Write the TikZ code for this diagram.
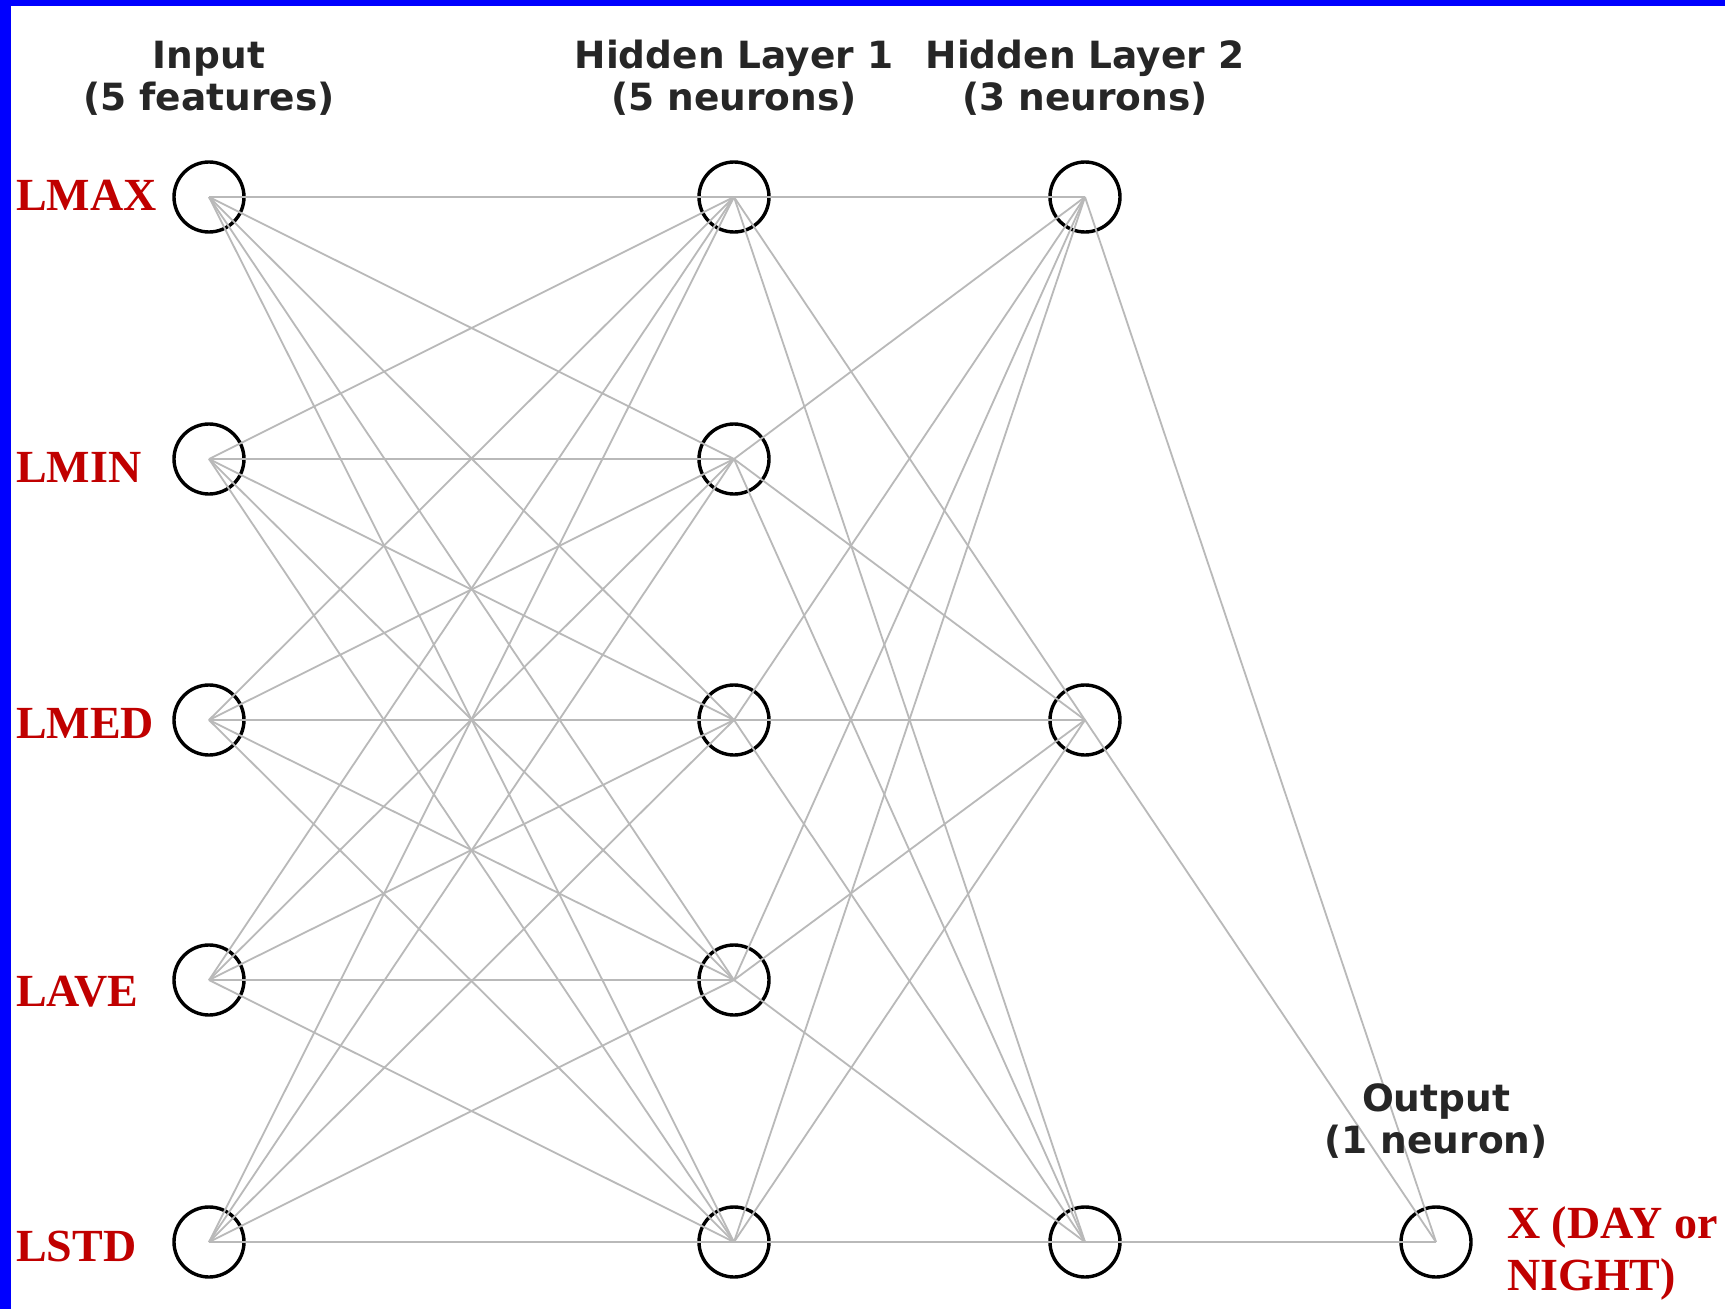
\documentclass[tikz,border=0pt]{standalone}
\usepackage{fontspec}
\newfontfamily\hdrfont{DejaVu Sans}
\newfontfamily\redfont{Liberation Serif}
\definecolor{bluebar}{RGB}{0,0,255}
\definecolor{labred}{RGB}{192,0,0}
\definecolor{hdrgray}{RGB}{38,38,38}
\definecolor{edgegray}{RGB}{185,185,185}
\tikzset{
  neuron/.style={circle,draw=black,line width=3.4pt,minimum size=70pt,inner sep=0pt},
  edge/.style={draw=edgegray,line width=1.8pt},
  hdr/.style={font=\hdrfont\bfseries\fontsize{37.5}{42}\selectfont,text=hdrgray,align=center,inner sep=0pt,anchor=base},
  redlab/.style={font=\redfont\bfseries\fontsize{46}{52}\selectfont,text=labred,inner sep=0pt,anchor=base west,align=left}
}
\begin{document}
\begin{tikzpicture}[x=1pt,y=-1pt]
\useasboundingbox (0,0) rectangle (1725,1309);
\fill[white] (0,0) rectangle (1725,1309);
\fill[bluebar] (0,0) rectangle (11,1309);
\fill[bluebar] (0,0) rectangle (1725,6);

% neurons
\foreach \i/\y in {1/197,2/459,3/720,4/980,5/1242}{
  \node[neuron] (i\i) at (209,\y) {};
  \node[neuron] (h\i) at (734,\y) {};
}
\node[neuron] (g1) at (1085,197) {};
\node[neuron] (g2) at (1085,720) {};
\node[neuron] (g3) at (1085,1242) {};
\node[neuron] (o1) at (1436,1242) {};

% edges
\foreach \a in {1,...,5}{
  \foreach \b in {1,...,5}{
    \draw[edge] (i\a.center) -- (h\b.center);
  }
  \foreach \b in {1,2,3}{
    \draw[edge] (h\a.center) -- (g\b.center);
  }
}
\foreach \b in {1,2,3}{
  \draw[edge] (g\b.center) -- (o1.center);
}

% headers (anchor = baseline of last line)
\node[hdr] (tin) at (209,110) {Input\\(5 features)};
\node[hdr] (th1) at (734,110) {Hidden Layer 1\\(5 neurons)};
\node[hdr] (th2) at (1085,110) {Hidden Layer 2\\(3 neurons)};
\node[hdr] (tout) at (1436,1153) {Output\\(1 neuron)};

% red labels
\node[redlab] (l1) at (16,210) {LMAX};
\node[redlab] (l2) at (16,482) {LMIN};
\node[redlab] (l3) at (16,738) {LMED};
\node[redlab] (l4) at (16,1006) {LAVE};
\node[redlab] (l5) at (16,1261) {LSTD};
\node[redlab] (lx) at (1507,1290) {X (DAY or\\NIGHT)};
\end{tikzpicture}
\end{document}
